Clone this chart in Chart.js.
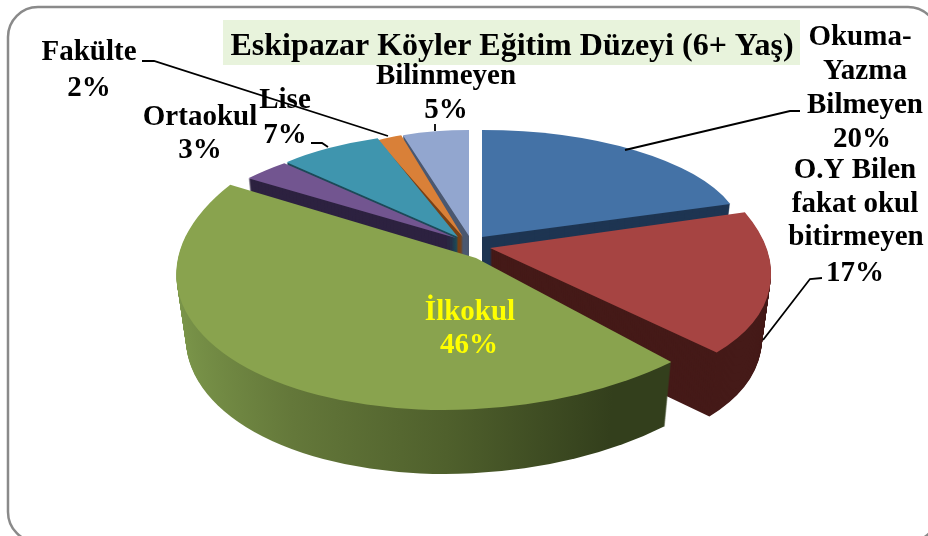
<!DOCTYPE html>
<html>
<head>
<meta charset="utf-8">
<style>
html, body { margin: 0; padding: 0; background: #fff; overflow: hidden; }
canvas { display: block; }
</style>
<script src="https://cdn.jsdelivr.net/npm/chart.js@4/dist/chart.umd.min.js"></script>
</head>
<body>
<canvas id="pie-canvas" width="928" height="536"></canvas>
<script>
var titleText = "Eskipazar Köyler Eğitim Düzeyi (6+ Yaş)";
var categories = ["Okuma-\nYazma\nBilmeyen", "O.Y Bilen\nfakat okul\nbitirmeyen", "İlkokul", "Ortaokul", "Lise", "Fakülte", "Bilinmeyen"];
var values = [20, 17, 46, 3, 7, 2, 5];
var topColors = ["#4472a6", "#a64442", "#89a34e", "#725590", "#3f95ae", "#d98038", "#92a6cf"];
var wallColors = ["#1e3552", "#451a18", null, "#2d2240", "#1d4a58", "#7a4115", "#4b5870"];

// where each wedge lands on the page: tip x,y then the 2x2 that tilts it
var sliceFit = [
    { x: 482, y: 237, a: 261, b: 0, c: 0, d: 107 },
    { x: 490, y: 248, a: 279, b: 34, c: 9, d: 143 },
    { x: 476, y: 258, a: 298, b: -32, c: 0, d: 152 },
    { x: 456, y: 238, a: 265, b: -51, c: 11, d: 104 },
    { x: 458, y: 237, a: 244, b: -26, c: 11, d: 104 },
    { x: 463, y: 237, a: 200, b: 0, c: 0, d: 107 },
    { x: 469, y: 236, a: 214, b: 0, c: 0, d: 106 }
];
var drawOrder = [6, 5, 4, 3, 0, 1, 2];
var wallDepth = 64;

// label lines: centre x and baseline y per line, last line is the percent
var labelSpots = [
    [[860, 45], [865, 79], [865, 113], [862, 147]],
    [[855, 178], [855, 212], [856, 245], [855, 281]],
    [[470, 320], [469, 353]],
    [[200, 125], [200, 158]],
    [[285, 108], [285, 143]],
    [[89, 60], [89, 96]],
    [[446, 84], [446, 118]]
];
var leaderLines = [
    [[800, 111], [790, 111], [625, 150]],
    [[822, 278], [810, 279], [763, 340]],
    [[142, 61], [154, 61], [388, 136]],
    [[311, 143], [322, 143], [328, 147]],
    [[435, 124], [435, 131]]
];

function placeSlice(ctx, arc, fit, drop, shrink) {
    var R = arc.outerRadius;
    var a = fit.a * shrink / R, b = fit.b * shrink / R, c = fit.c / R, d = fit.d / R;
    ctx.transform(a, c, b, d, fit.x - (a * arc.x + b * arc.y), fit.y + drop - (c * arc.x + d * arc.y));
}

var threeDPie = {
    id: 'threeDPie',
    beforeDraw: function(chart) {
        var ctx = chart.ctx;
        ctx.save();
        ctx.fillStyle = "#fff";
        ctx.fillRect(0, 0, 928, 536);
        ctx.strokeStyle = "#8a8a8a";
        ctx.lineWidth = 2.5;
        ctx.beginPath();
        ctx.roundRect(8, 7, 930, 535, 30);
        ctx.stroke();
        ctx.fillStyle = "#e8f3dc";
        ctx.fillRect(223, 20, 577, 45);
        ctx.restore();
    },
    beforeDatasetsDraw: function(chart) {
        var ctx = chart.ctx;
        var arcs = chart.getDatasetMeta(0).data;
        drawOrder.forEach(function(i) {
            var arc = arcs[i], fit = sliceFit[i], top = arc.options;
            var wall = wallColors[i];
            if (!wall) {
                // the big slice has a shaded side, light on the left
                var R = arc.outerRadius;
                var x0 = arc.x + (177 - fit.x) * R / fit.a, x1 = arc.x + (640 - fit.x) * R / fit.a;
                wall = ctx.createLinearGradient(x0, 0, x1, 0);
                wall.addColorStop(0, "#7b964a");
                wall.addColorStop(0.3, "#64783a");
                wall.addColorStop(0.65, "#4f602c");
                wall.addColorStop(1, "#333f1c");
            }
            arc.options = Object.assign({}, top, { backgroundColor: wall });
            for (var t = wallDepth; t > 0; t--) {
                ctx.save();
                placeSlice(ctx, arc, fit, t, 1 - 0.0005 * t);
                arc.draw(ctx);
                ctx.restore();
            }
            arc.options = top;
            ctx.save();
            placeSlice(ctx, arc, fit, 0, 1);
            arc.draw(ctx);
            ctx.restore();
        });
        return false;
    },
    afterDraw: function(chart) {
        var ctx = chart.ctx;
        ctx.save();
        ctx.strokeStyle = "#000";
        ctx.lineWidth = 1.8;
        leaderLines.forEach(function(pts) {
            ctx.beginPath();
            pts.forEach(function(p, n) {
                if (n === 0) ctx.moveTo(p[0], p[1]); else ctx.lineTo(p[0], p[1]);
            });
            ctx.stroke();
        });
        ctx.textAlign = "center";
        ctx.textBaseline = "alphabetic";
        ctx.fillStyle = "#000";
        ctx.font = "bold 32px 'Liberation Serif'";
        ctx.fillText(titleText, 512, 55);
        ctx.font = "bold 29px 'Liberation Serif'";
        categories.forEach(function(name, i) {
            var lines = name.split("\n").concat(values[i] + "%");
            ctx.fillStyle = i === 2 ? "#ffff00" : "#000";
            lines.forEach(function(line, n) {
                ctx.fillText(line, labelSpots[i][n][0], labelSpots[i][n][1]);
            });
        });
        ctx.restore();
    }
};

window.onload = function() {
    var ctx = document.getElementById("pie-canvas").getContext("2d");
    window.myPie = new Chart(ctx, {
        type: 'pie',
        data: {
            labels: categories,
            datasets: [{
                data: values,
                backgroundColor: topColors,
                borderWidth: 0
            }]
        },
        options: {
            responsive: false,
            animation: false,
            plugins: {
                legend: { display: false },
                title: { display: false },
                tooltip: { enabled: false }
            }
        },
        plugins: [threeDPie]
    });
};
</script>
</body>
</html>
